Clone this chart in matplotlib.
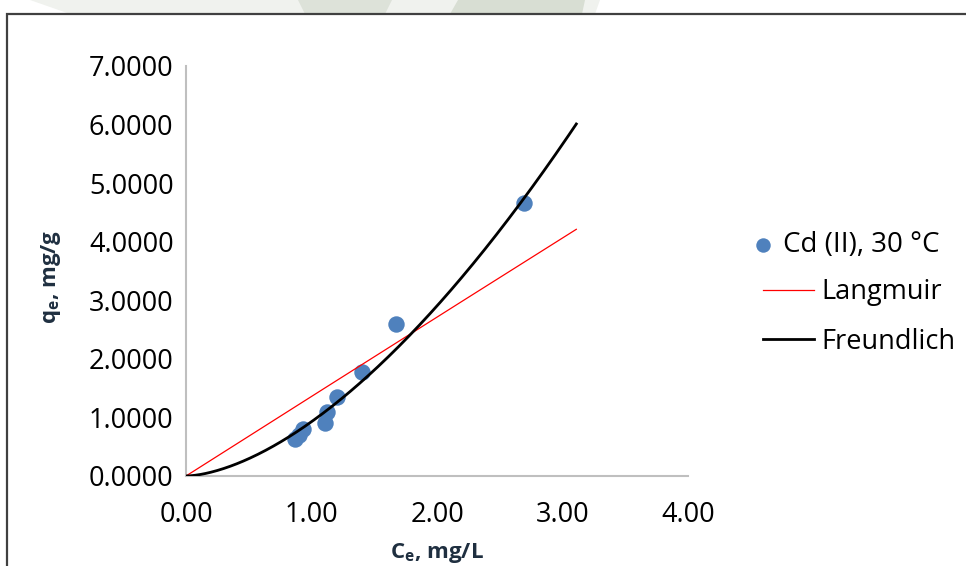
import numpy as np
import matplotlib
matplotlib.use("Agg")
import matplotlib.pyplot as plt
from matplotlib.patches import Rectangle, Polygon

# Equilibrium data for Cd(II) at 30 °C
ce_obs = [0.87, 0.90, 0.93, 1.11, 1.12, 1.20, 1.40, 1.67, 2.69]
qe_obs = [0.63, 0.70, 0.80, 0.90, 1.09, 1.35, 1.77, 2.59, 4.66]

# Fitted isotherm parameters
langmuir_qm = 1000.0
langmuir_kl = 0.00136
freundlich_kf = 0.927
freundlich_n = 0.607   # 1/n > 1
ce_fit_max = 3.11

x_ticks = [0.0, 1.0, 2.0, 3.0, 4.0]
y_ticks = [0, 1, 2, 3, 4, 5, 6, 7]

plt.rcParams['font.family'] = ['Open Sans', 'DejaVu Sans']

fig = plt.figure(figsize=(9.66, 5.66), dpi=100)
W, H = 966, 566

def fx(px):
    return px / W

def fy(py):
    return 1 - py / H

# faint logo band along the top edge
fig.patches.append(Polygon([(fx(30), fy(0)), (fx(600), fy(0)), (fx(595), fy(14)), (fx(70), fy(14))],
                           closed=True, transform=fig.transFigure, facecolor='#f0f2ee', edgecolor='none', zorder=0))
fig.patches.append(Polygon([(fx(298), fy(0)), (fx(392), fy(0)), (fx(385), fy(14)), (fx(305), fy(14))],
                           closed=True, transform=fig.transFigure, facecolor='#dde2d9', edgecolor='none', zorder=0))
fig.patches.append(Polygon([(fx(458), fy(0)), (fx(585), fy(0)), (fx(582), fy(14)), (fx(450), fy(14))],
                           closed=True, transform=fig.transFigure, facecolor='#d8ded3', edgecolor='none', zorder=0))

# chart frame
fig.patches.append(Rectangle((fx(7), fy(580)), fx(980), fy(14) - fy(580), transform=fig.transFigure,
                             facecolor='white', edgecolor='#404040', linewidth=1.6, zorder=0.5))

ax = fig.add_axes([186 / W, 1 - 476 / H, (688 - 186) / W, (476 - 66) / H])
ax.set_zorder(2)
ax.set_facecolor('none')

c = np.linspace(0, ce_fit_max, 300)
q_lang = langmuir_qm * langmuir_kl * c / (1 + langmuir_kl * c)
q_freu = freundlich_kf * c ** (1 / freundlich_n)

pts = ax.scatter(ce_obs, qe_obs, s=140, color='#4f81bd', zorder=3, label='Cd (II), 30 °C', linewidths=0)
l_lang, = ax.plot(c, q_lang, color='#ff0000', linewidth=0.9, zorder=4, label='Langmuir')
l_freu, = ax.plot(c, q_freu, color='black', linewidth=2.0, zorder=4, label='Freundlich')

ax.set_xlim(0, 4)
ax.set_ylim(0, 7)
ax.set_xticks(x_ticks)
ax.set_yticks(y_ticks)
ax.set_xticklabels([f"{v:.2f}" for v in x_ticks])
ax.set_yticklabels([f"{v:.4f}" for v in y_ticks])
ax.tick_params(length=0, labelsize=19.5, colors='black')
ax.tick_params(axis='y', pad=9)
ax.tick_params(axis='x', pad=18)
for s in ['top', 'right']:
    ax.spines[s].set_visible(False)
for s in ['left', 'bottom']:
    ax.spines[s].set_color('#bfbfbf')
    ax.spines[s].set_linewidth(1.5)

label_color = '#1f2f40'
ax.set_xlabel(r'C$_\mathregular{e}$, mg/L', fontsize=16, fontweight='bold', color=label_color)
ax.set_ylabel(r'q$_\mathregular{e}$, mg/g', fontsize=16, fontweight='bold', color=label_color)
ax.xaxis.set_label_coords(0.5, -0.158)
ax.yaxis.set_label_coords(-0.245, 0.485)

# legend: marker entry and line entries
leg1 = fig.legend(handles=[pts], loc='center left', bbox_to_anchor=(750 / W, 1 - 245 / H),
                  frameon=False, fontsize=20, handlelength=0.9, handletextpad=0.3,
                  borderpad=0, borderaxespad=0, markerscale=0.88)
leg2 = fig.legend(handles=[l_lang, l_freu], loc='center left', bbox_to_anchor=(763 / W, 1 - 317 / H),
                  frameon=False, fontsize=19.5, handlelength=1.9, handletextpad=0.25,
                  labelspacing=0.78, borderpad=0, borderaxespad=0)

fig.savefig('out.png', dpi=100)
